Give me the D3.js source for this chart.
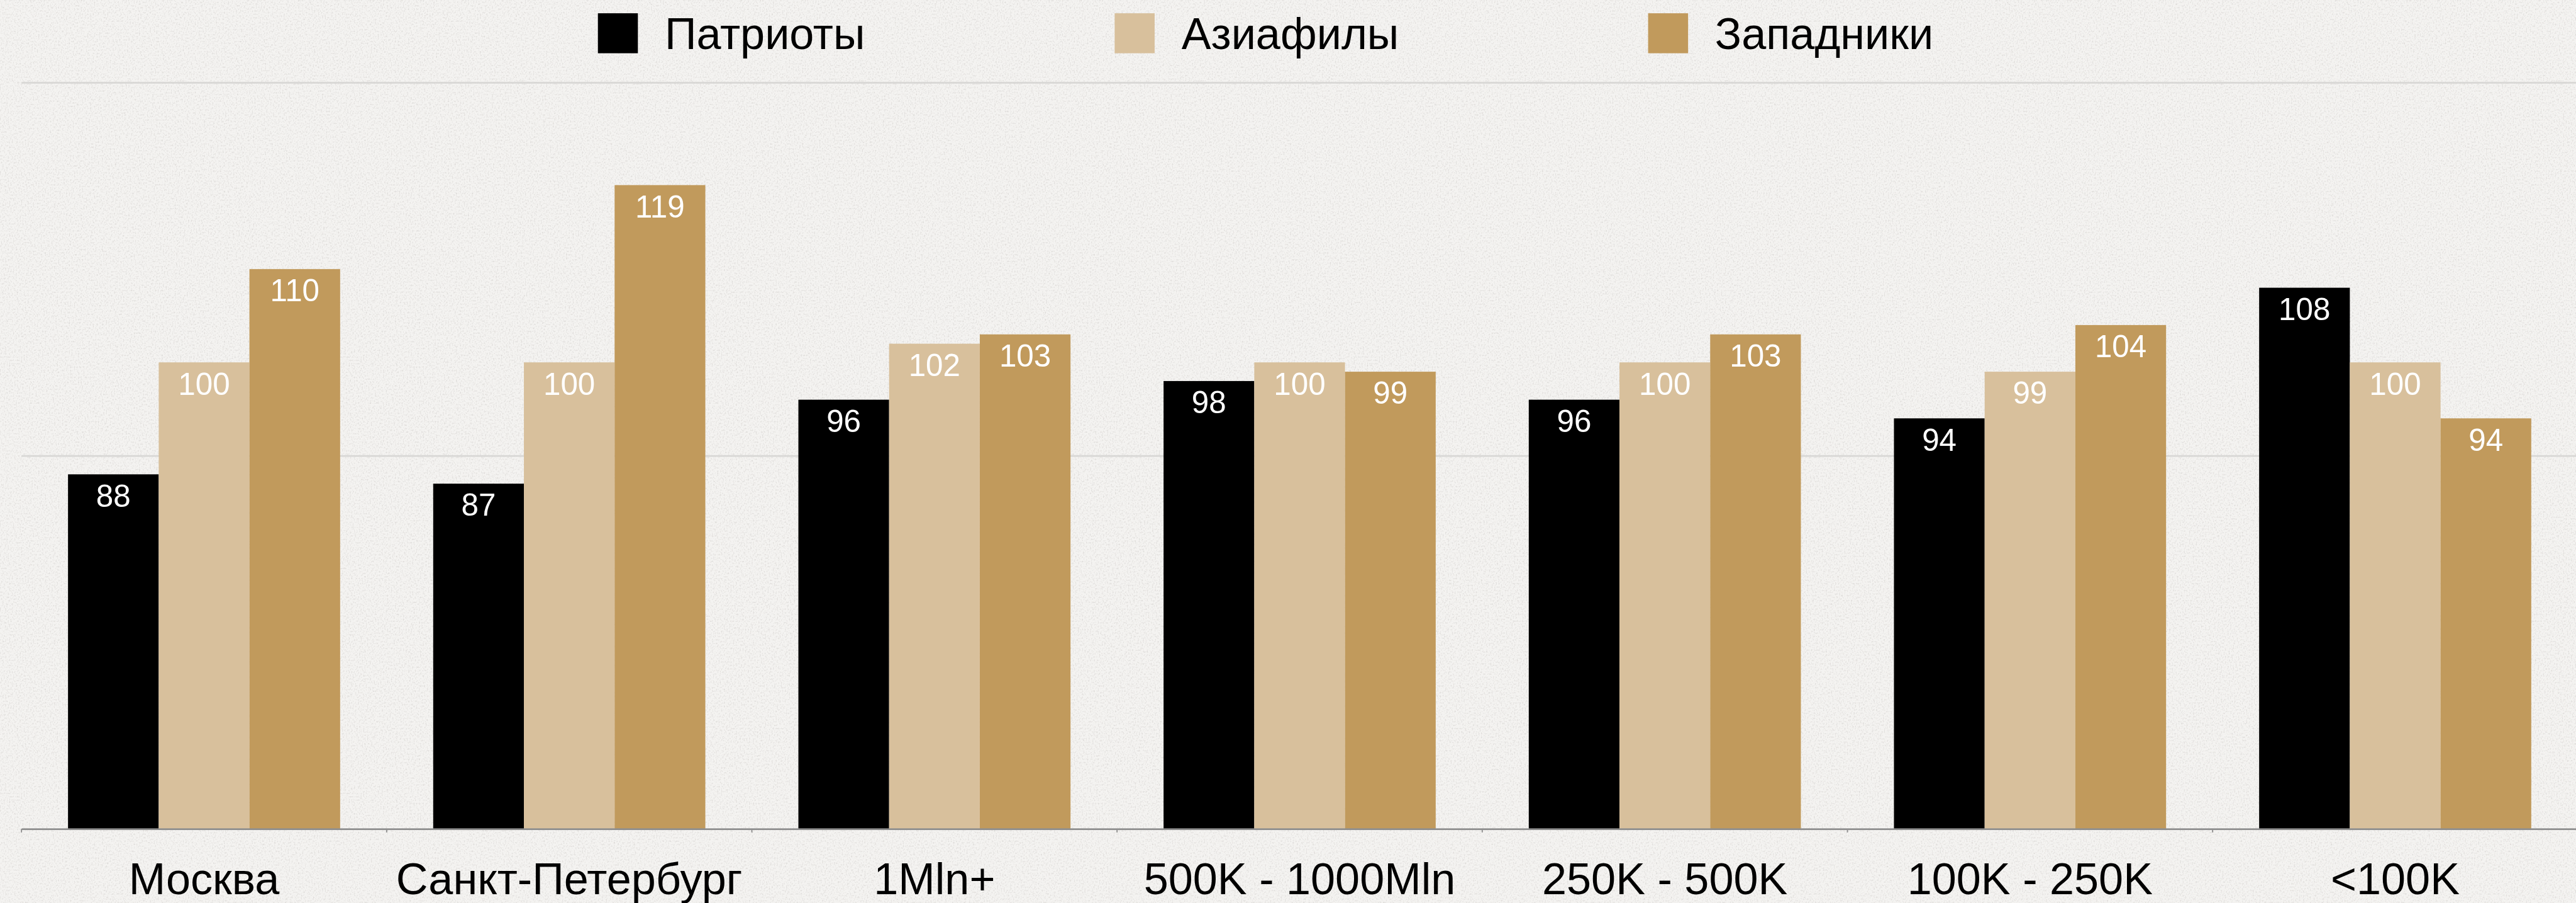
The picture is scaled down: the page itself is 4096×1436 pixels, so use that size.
<!DOCTYPE html>
<html>
<head>
<meta charset="utf-8">
<script src="https://cdn.jsdelivr.net/npm/d3@7"></script>
<style>
  html, body { margin: 0; padding: 0; background: #f1f0ee; overflow: hidden; }
  #chart { width: 4096px; height: 1436px; }
  text { font-family: "Liberation Sans", Arial, sans-serif; }
</style>
</head>
<body>
<div id="chart"></div>
<script>

// ------------------------ data ------------------------------

var categories = ["Москва", "Санкт-Петербург", "1Mln+", "500K - 1000Mln", "250K - 500K", "100K - 250K", "<100K"];
var seriesNames = ["Патриоты", "Азиафилы", "Западники"];
var seriesColours = ["#000000", "#d8c09c", "#c19a5c"];
var patriots   = [88, 87, 96, 98, 96, 94, 108];
var asiaphiles = [100, 100, 102, 100, 100, 99, 100];
var westerners = [110, 119, 103, 99, 103, 104, 94];
var yTicks = [50, 90, 130];

// ------------------------ chart ------------------------------

var build_barChart = function() {

	// reference size, scaled into the window through the viewBox
	var refW = 4317, refH = 1513;
	var margin = { top: 138, right: -3, bottom: refH - 1389, left: 36 },
		width = refW - margin.left - margin.right,
		height = refH - margin.top - margin.bottom;

	var seriesValues = [patriots, asiaphiles, westerners];
	var rows = categories.map(function(c, i) {
		return { category: c, values: seriesNames.map(function(s, k) {
			return { key: s, value: seriesValues[k][i], colour: seriesColours[k] };
		}) };
	});

	var svg = d3.select("#chart").append("svg")
			.attr("width", 4096)
			.attr("height", 1436)
			.attr("viewBox", "0 0 " + refW + " " + refH);

	// paper background
	var defs = svg.append("defs");
	var paper = defs.append("filter").attr("id", "paper")
			.attr("x", 0).attr("y", 0).attr("width", "100%").attr("height", "100%");
	paper.append("feTurbulence").attr("type", "fractalNoise")
			.attr("baseFrequency", "0.45 0.35").attr("numOctaves", 4).attr("seed", 7).attr("result", "noise");
	paper.append("feColorMatrix").attr("in", "noise").attr("type", "matrix")
			.attr("values", "0 0 0 0 0.55  0 0 0 0 0.53  0 0 0 0 0.51  0 0 0 -2.6 1.35");

	svg.append("rect").attr("width", refW).attr("height", refH).attr("fill", "#f4f3f1");
	svg.append("rect").attr("width", refW).attr("height", refH).attr("filter", "url(#paper)").attr("opacity", 0.45);

	var g = svg.append("g")
			.attr("transform", "translate(" + margin.left + "," + margin.top + ")");

	// set the ranges
	var x = d3.scaleBand()
			.domain(categories)
			.range([0, width])
			.padding(0);
	var xSeries = d3.scaleBand()
			.domain(seriesNames)
			.range([0, x.bandwidth()])
			.paddingInner(0).paddingOuter(0.513);
	var y = d3.scaleLinear()
			.domain([yTicks[0], yTicks[yTicks.length - 1]])
			.range([height, 0]);

	// gridlines
	var grid = g.append("g")
			.call(d3.axisLeft(y).tickValues(yTicks.slice(1)).tickSize(-(refW - margin.left)).tickFormat(""));
	grid.select(".domain").remove();
	grid.selectAll(".tick line").attr("stroke", "#d8d7d5").attr("stroke-width", 3);

	// bars
	var groups = g.append("g").selectAll(".category")
			.data(rows)
			.enter().append("g")
			.attr("class", "category")
			.attr("transform", function(d) { return "translate(" + x(d.category) + ",0)"; });

	groups.selectAll(".bar")
			.data(function(d) { return d.values; })
			.enter().append("rect")
				.attr("class", "bar")
				.attr("x", function(d) { return xSeries(d.key); })
				.attr("width", xSeries.bandwidth())
				.attr("y", function(d) { return y(d.value); })
				.attr("height", function(d) { return height - y(d.value); })
				.attr("fill", function(d) { return d.colour; });

	groups.selectAll(".value")
			.data(function(d) { return d.values; })
			.enter().append("text")
				.attr("class", "value")
				.attr("x", function(d) { return xSeries(d.key) + xSeries.bandwidth() / 2; })
				.attr("y", function(d) { return y(d.value) + 54; })
				.attr("text-anchor", "middle")
				.attr("fill", "#ffffff")
				.attr("font-size", 52)
				.text(function(d) { return d.value; });

	// x axis with labels
	var axisX = g.append("g")
			.attr("transform", "translate(0," + height + ")")
			.call(d3.axisBottom(x).tickSize(0).tickPadding(57));
	axisX.select(".domain").attr("stroke", "#8f8f8f").attr("stroke-width", 3);
	axisX.selectAll(".tick text")
			.attr("font-size", 74)
			.attr("fill", "#000")
			.style("font-family", "'Liberation Sans', Arial, sans-serif");

	// tick marks between categories
	axisX.selectAll(".boundary")
			.data(categories)
			.enter().append("line")
				.attr("class", "boundary")
				.attr("x1", function(d) { return x(d); })
				.attr("x2", function(d) { return x(d); })
				.attr("y1", 0).attr("y2", 6)
				.attr("stroke", "#8f8f8f").attr("stroke-width", 2);

	// legend
	var legendX = [1002, 1868, 2762];
	var legend = svg.append("g").selectAll(".legend")
			.data(seriesNames)
			.enter().append("g")
			.attr("class", "legend")
			.attr("transform", function(d, i) { return "translate(" + legendX[i] + ",22)"; });
	legend.append("rect")
			.attr("width", 67).attr("height", 67)
			.attr("fill", function(d, i) { return seriesColours[i]; });
	legend.append("text")
			.attr("x", 112).attr("y", 60)
			.attr("font-size", 74)
			.attr("fill", "#000")
			.text(function(d) { return d; });
}

build_barChart();
</script>
</body>
</html>
